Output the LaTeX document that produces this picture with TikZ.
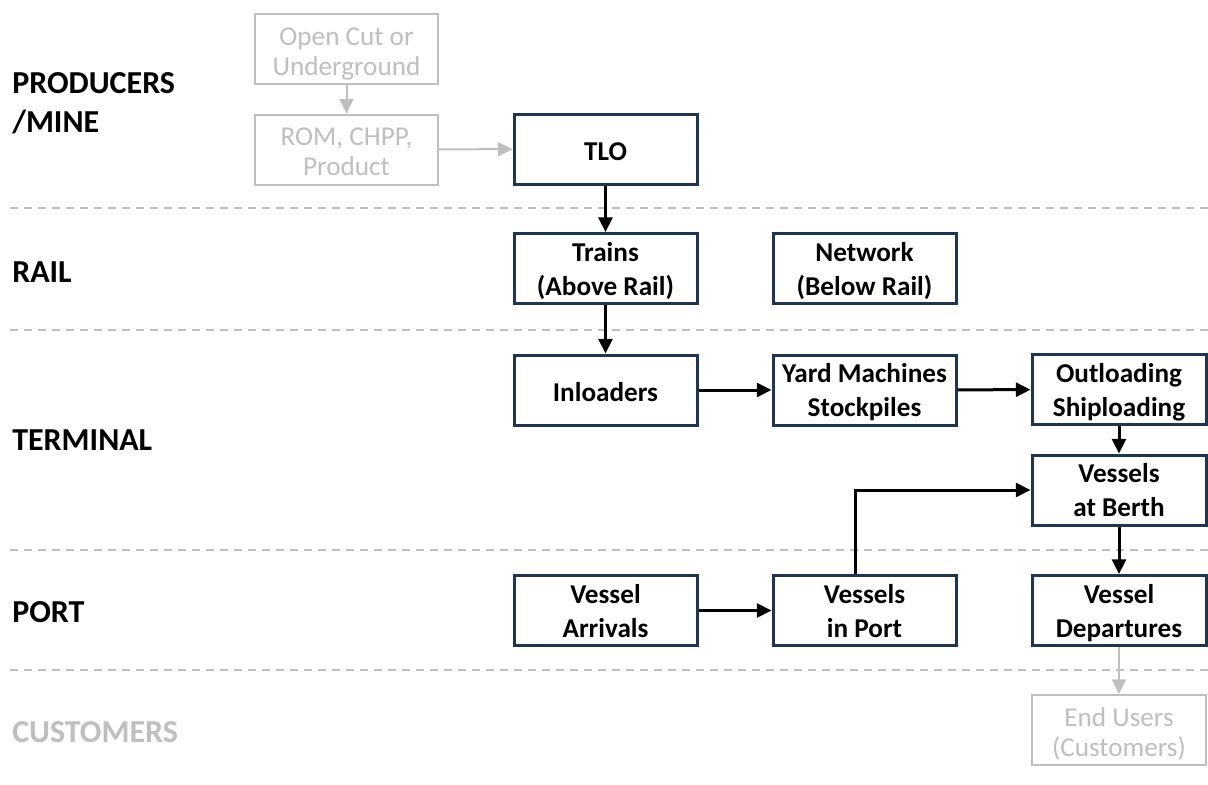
\documentclass[tikz,border=0pt]{standalone}
\usepackage{fontspec}
\setmainfont{Carlito}
\usetikzlibrary{arrows.meta}
\definecolor{boxblue}{HTML}{1F3550}
\definecolor{faded}{HTML}{BFBFBF}
\definecolor{sepgray}{HTML}{BFBFBF}

% A two-line node keeps the baseline of its last line, so text height spans
% from the top of the first line down to that baseline.
\tikzset{
  stage/.style={draw=boxblue, line width=2.25pt, fill=white, align=center,
    minimum width=137.25pt, minimum height=52.5pt, inner sep=0pt,
    text height=43.5pt, text depth=3.7pt,
    font=\bfseries\fontsize{20.4}{25.5}\selectfont},
  onestage/.style={stage, text height=16.5pt, text depth=0pt},
  edgestage/.style={stage, minimum width=130.5pt},
  ghost/.style={draw=faded, line width=1.5pt, fill=white, align=center, text=faded,
    minimum width=137.25pt, minimum height=52.5pt, inner sep=0pt,
    text height=42.5pt, text depth=3.5pt,
    font=\fontsize{20.4}{22.5}\selectfont},
  edgeghost/.style={ghost, minimum width=130.5pt},
  flow/.style={line width=2.25pt, -{Triangle[length=11pt,width=10.5pt]}},
  fadedflow/.style={draw=faded, line width=1.5pt, -{Triangle[length=11pt,width=10.5pt]}},
  lane/.style={draw=sepgray, line width=1.5pt, dash pattern=on 6pt off 4.5pt},
  tier/.style={anchor=base west, align=left, inner sep=0pt,
    font=\bfseries\fontsize{24}{29.25}\selectfont},
}

\begin{document}
\begin{tikzpicture}[x=0.75pt, y=-0.75pt]
\useasboundingbox (0,0) rectangle (1208,785);

% lane separators
\coordinate (l1a) at (10,208);  \coordinate (l1b) at (1208,208);
\coordinate (l2a) at (10,330);  \coordinate (l2b) at (1208,330);
\coordinate (l3a) at (10,550);  \coordinate (l3b) at (1208,550);
\coordinate (l4a) at (10,670);  \coordinate (l4b) at (1208,670);
\draw[lane] (l1a) -- (l1b);
\draw[lane] (l2a) -- (l2b);
\draw[lane] (l3a) -- (l3b);
\draw[lane] (l4a) -- (l4b);

% tier labels (a multi-line label sits on the baseline of its last line)
\node[tier] (producers) at (12,132) {PRODUCERS\\/MINE};
\node[tier] (rail) at (12,282) {RAIL};
\node[tier] (terminal) at (12,450) {TERMINAL};
\node[tier] (port) at (12,622) {PORT};
\node[tier, text=faded] (customers) at (12,742) {CUSTOMERS};

% stages
\node[ghost] (mine) at (346.5,49) {Open Cut or\\Underground};
\node[ghost] (rom) at (346.5,149.5) {ROM, CHPP,\\Product};
\node[onestage] (tlo) at (605.5,149) {TLO};
\node[stage] (trains) at (605.5,268.5) {Trains\\(Above Rail)};
\node[stage] (network) at (864.5,268.5) {Network\\(Below Rail)};
\node[onestage] (inload) at (605.5,390) {Inloaders};
\node[stage] (yard) at (864.5,390) {Yard Machines\\Stockpiles};
\node[edgestage] (outload) at (1119,389.5) {Outloading\\Shiploading};
\node[edgestage] (berth) at (1119,490) {Vessels\\at Berth};
\node[stage] (arrive) at (605.5,610.5) {Vessel\\Arrivals};
\node[stage] (inport) at (864.5,610.5) {Vessels\\in Port};
\node[edgestage] (depart) at (1119,610.5) {Vessel\\Departures};
\node[edgeghost] (users) at (1119,730) {End Users\\(Customers)};

% flows
\draw[fadedflow] (mine) -- (rom);
\draw[fadedflow] (rom) -- (tlo);
\draw[flow] (tlo) -- (trains);
\draw[flow] (trains) -- (inload);
\draw[flow] (inload) -- (yard);
\draw[flow] (yard) -- (outload);
\draw[flow] (outload) -- (berth);
\draw[flow] (berth) -- (depart);
\draw[flow] (arrive) -- (inport);
\coordinate (rise) at ([xshift=-6.5pt]inport.north);
\draw[flow] (rise) |- (berth.west);
\draw[fadedflow] (depart) -- (users);
\end{tikzpicture}
\end{document}
